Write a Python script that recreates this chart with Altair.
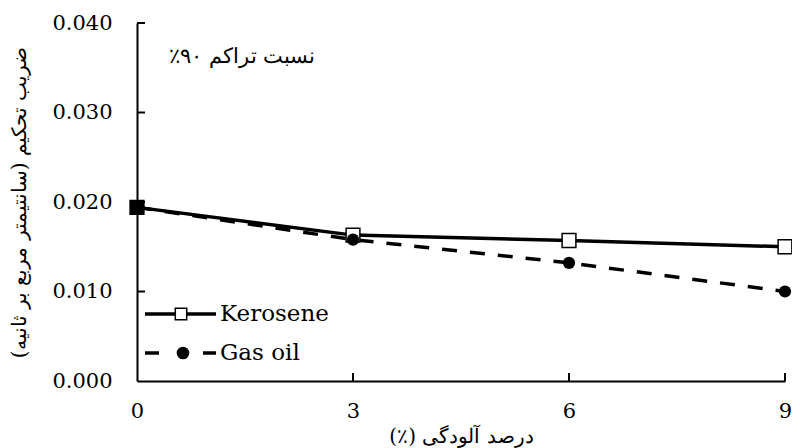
import altair as alt
import pandas as pd

contamination = [0, 3, 6, 9]
kerosene = [0.0194, 0.0163, 0.0157, 0.0150]
gas_oil = [0.0194, 0.0158, 0.0132, 0.0100]
series_names = ["Kerosene", "Gas oil"]
y_tick_values = [0.0, 0.01, 0.02, 0.03, 0.04]
x_tick_values = [0, 3, 6, 9]

RLM = "\u200f"
y_title = RLM + "ضریب تحکیم (سانتیمتر مربع بر ثانیه)" + RLM
x_title = RLM + "درصد آلودگی (٪)" + RLM
note = RLM + "نسبت تراکم ۹۰٪" + RLM

FONT = "DejaVu Serif"
W, H = 648, 358

df = pd.DataFrame({
    "x": contamination * 2,
    "y": kerosene + gas_oil,
    "s": [series_names[0]] * 4 + [series_names[1]] * 4,
})
ker = df[df.s == series_names[0]]
gas = df[df.s == series_names[1]]

xs = alt.Scale(domain=[0, 9], nice=False, zero=False)
ys = alt.Scale(domain=[0, 0.04], nice=False)

xenc = alt.X("x:Q", scale=xs, axis=alt.Axis(
    values=x_tick_values, format="d", title=x_title, grid=False, ticks=False,
    labelFlush=False,
    domainColor="black", domainWidth=2, labelFont=FONT, labelFontSize=21,
    labelColor="black", labelPadding=19, titleFont=FONT, titleFontSize=20,
    titleFontWeight="normal", titleColor="black", titleBaseline="middle",
    titleY=55))
yenc = alt.Y("y:Q", scale=ys, axis=alt.Axis(
    values=y_tick_values, format=".3f", title=y_title, grid=False, ticks=False,
    labelFlush=False,
    domainColor="black", domainWidth=2, labelFont=FONT, labelFontSize=21,
    labelColor="black", labelPadding=25, titleFont=FONT, titleFontSize=20,
    titleFontWeight="normal", titleColor="black", titleX=-118, titleBaseline="middle"))

gas_line = alt.Chart(gas).mark_line(color="black", strokeWidth=3.5, strokeDash=[15, 13]).encode(x=xenc, y=yenc)
ker_line = alt.Chart(ker).mark_line(color="black", strokeWidth=3.5).encode(x="x:Q", y="y:Q")
ker_pts = alt.Chart(ker).mark_point(shape="square", size=190, stroke="black", strokeWidth=1.5, opacity=1).encode(
    x="x:Q", y="y:Q",
    fill=alt.condition(alt.datum.x == 0, alt.value("black"), alt.value("white")))
gas_pts = alt.Chart(gas).mark_point(shape="circle", size=150, filled=True, color="black", opacity=1).encode(
    x="x:Q", y="y:Q")

ytk = alt.Chart(pd.DataFrame({"v": y_tick_values[1:]})).mark_rule(color="black", strokeWidth=2).encode(
    y="v:Q", x=alt.value(0), x2=alt.value(8))
xtk = alt.Chart(pd.DataFrame({"v": x_tick_values[1:]})).mark_rule(color="black", strokeWidth=2).encode(
    x="v:Q", y=alt.value(H), y2=alt.value(H - 8))

note_mark = alt.Chart(pd.DataFrame({"t": [note]})).mark_text(
    font=FONT, fontSize=21, align="center", baseline="middle", color="black").encode(
    text="t:N", x=alt.value(105), y=alt.value(34))

# legend
leg = pd.DataFrame({"name": series_names})
k_leg = leg.iloc[[0]]
g_leg = leg.iloc[[1]]
LY1, LY2 = 291, 330
k_leg_line = alt.Chart(k_leg).mark_rule(color="black", strokeWidth=3.5).encode(
    x=alt.value(8), x2=alt.value(79), y=alt.value(LY1))
k_leg_pt = alt.Chart(k_leg).mark_point(shape="square", size=130, fill="white", stroke="black", strokeWidth=1.5, opacity=1).encode(
    x=alt.value(44), y=alt.value(LY1))
k_leg_txt = alt.Chart(k_leg).mark_text(font=FONT, fontSize=23, align="left", baseline="middle", color="black").encode(
    text="name:N", x=alt.value(83), y=alt.value(LY1))
g_leg_line = alt.Chart(g_leg).mark_rule(color="black", strokeWidth=3.5, strokeDash=[14, 44]).encode(
    x=alt.value(8), x2=alt.value(79), y=alt.value(LY2))
g_leg_pt = alt.Chart(g_leg).mark_point(shape="circle", size=160, filled=True, color="black", opacity=1).encode(
    x=alt.value(46), y=alt.value(LY2))
g_leg_txt = alt.Chart(g_leg).mark_text(font=FONT, fontSize=23, align="left", baseline="middle", color="black").encode(
    text="name:N", x=alt.value(83), y=alt.value(LY2))

chart = alt.layer(
    gas_line, ker_line, ker_pts, gas_pts, ytk, xtk, note_mark,
    k_leg_line, k_leg_pt, k_leg_txt, g_leg_line, g_leg_pt, g_leg_txt,
).properties(
    width=W, height=H,
    autosize=alt.AutoSizeParams(type="none"),
    padding={"left": 129, "top": 15, "right": 7, "bottom": 67},
    background="white",
).configure_view(stroke=None)

chart.save("out.html", embed_options={"renderer": "svg", "actions": False})
